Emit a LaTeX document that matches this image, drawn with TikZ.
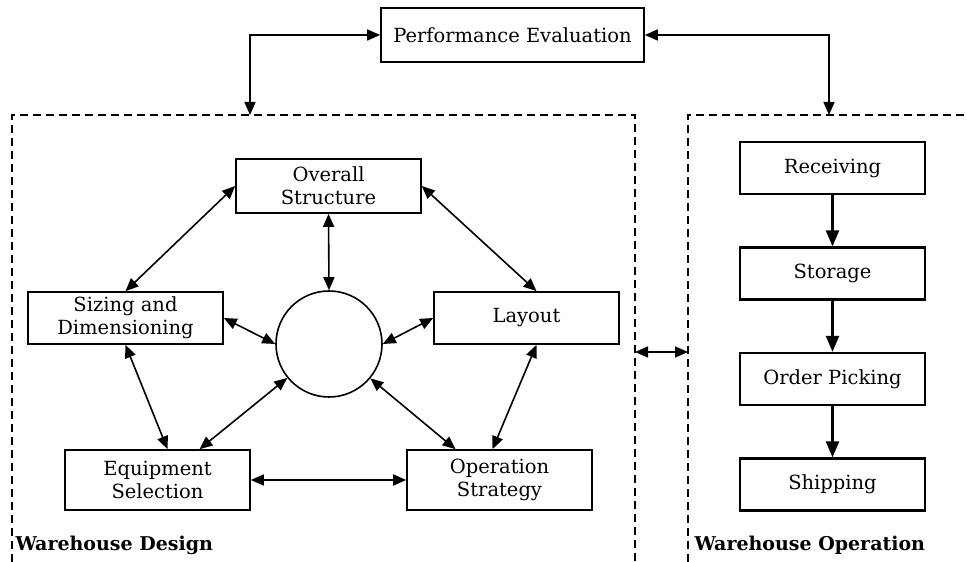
\documentclass[tikz,border=0pt]{standalone}
\usepackage{fontspec}
\setmainfont{DejaVu Serif}
\usetikzlibrary{positioning,arrows.meta}

\tikzset{
  designbox/.style={draw, rectangle, line width=1.6pt, minimum width=185pt, minimum height=54pt, align=center, inner sep=2pt},
  flowbox/.style={draw, rectangle, line width=2.3pt, minimum width=185pt, minimum height=52pt},
  link/.style={{Triangle[length=13pt,width=11pt]}-{Triangle[length=13pt,width=11pt]}, line width=1.6pt},
  flow/.style={-{Triangle[length=16pt,width=13pt]}, line width=2.3pt},
  zone/.style={dash pattern=on 8pt off 5pt, line width=1.2pt},
  zonelabel/.style={anchor=west, font=\fontsize{19}{22}\selectfont\bfseries}
}

\begin{document}
\begin{tikzpicture}[x=1pt, y=1pt, node distance=105.5pt, font=\fontsize{19.5}{23}\selectfont]
  \useasboundingbox (0,0) rectangle (967,562);

  % dashed regions
  \draw[zone] (12,0) -- (12,447) -- (635,447) -- (635,0);
  \draw[zone] (688,0) -- (688,447) -- (967,447);
  \node[zonelabel] (designlabel) at (12,17) {Warehouse Design};
  \node[zonelabel] (oplabel) at (691,17) {Warehouse Operation};

  % top
  \node[designbox, minimum width=263pt] (perf) at (512.5,527) {Performance Evaluation};
  \coordinate (designtop) at (250,447);
  \coordinate (optop) at (829,447);
  \draw[link] (perf.west) -| (designtop);
  \draw[link] (perf.east) -| (optop);

  % warehouse design
  \node[draw, circle, line width=1.6pt, minimum size=106pt] (hub) at (329,218) {};
  \node[designbox] (overall) at (328.5,376) {Overall\\Structure};
  \node[designbox, minimum width=195pt, minimum height=52pt] (sizing) at (125.5,244) {Sizing and\\Dimensioning};
  \node[designbox, minimum height=52pt] (layout) at (526.5,244) {Layout};
  \node[designbox, minimum height=60pt] (equip) at (157.5,82) {Equipment\\Selection};
  \node[designbox, minimum height=60pt] (strategy) at (499.5,82) {Operation\\Strategy};

  \draw[link] (overall.west) -- (sizing.north);
  \draw[link] (overall.east) -- ([xshift=10pt]layout.north);
  \draw[link] (overall.south) -- (hub.north);
  \draw[link] (sizing.east) -- (hub.west);
  \draw[link] (layout.west) -- (hub.east);
  \draw[link] (sizing.south) -- ([xshift=10pt]equip.north);
  \draw[link] ([xshift=42pt]equip.north) -- (hub);
  \draw[link] ([xshift=-44pt]strategy.north) -- (hub);
  \draw[link] ([xshift=10pt]layout.south) -- ([xshift=-7pt]strategy.north);
  \draw[link] (equip.east) -- (strategy.west);

  % warehouse operation
  \node[flowbox] (receiving) at (832.5,394) {Receiving};
  \node[flowbox, below of=receiving] (storage) {Storage};
  \node[flowbox, below of=storage] (picking) {Order Picking};
  \node[flowbox, below of=picking] (shipping) {Shipping};

  \draw[flow] (receiving) -- (storage);
  \draw[flow] (storage) -- (picking);
  \draw[flow] (picking) -- (shipping);

  % between the two regions
  \coordinate (designedge) at (635,210);
  \coordinate (opedge) at (688,210);
  \draw[link] (designedge) -- (opedge);
\end{tikzpicture}
\end{document}
